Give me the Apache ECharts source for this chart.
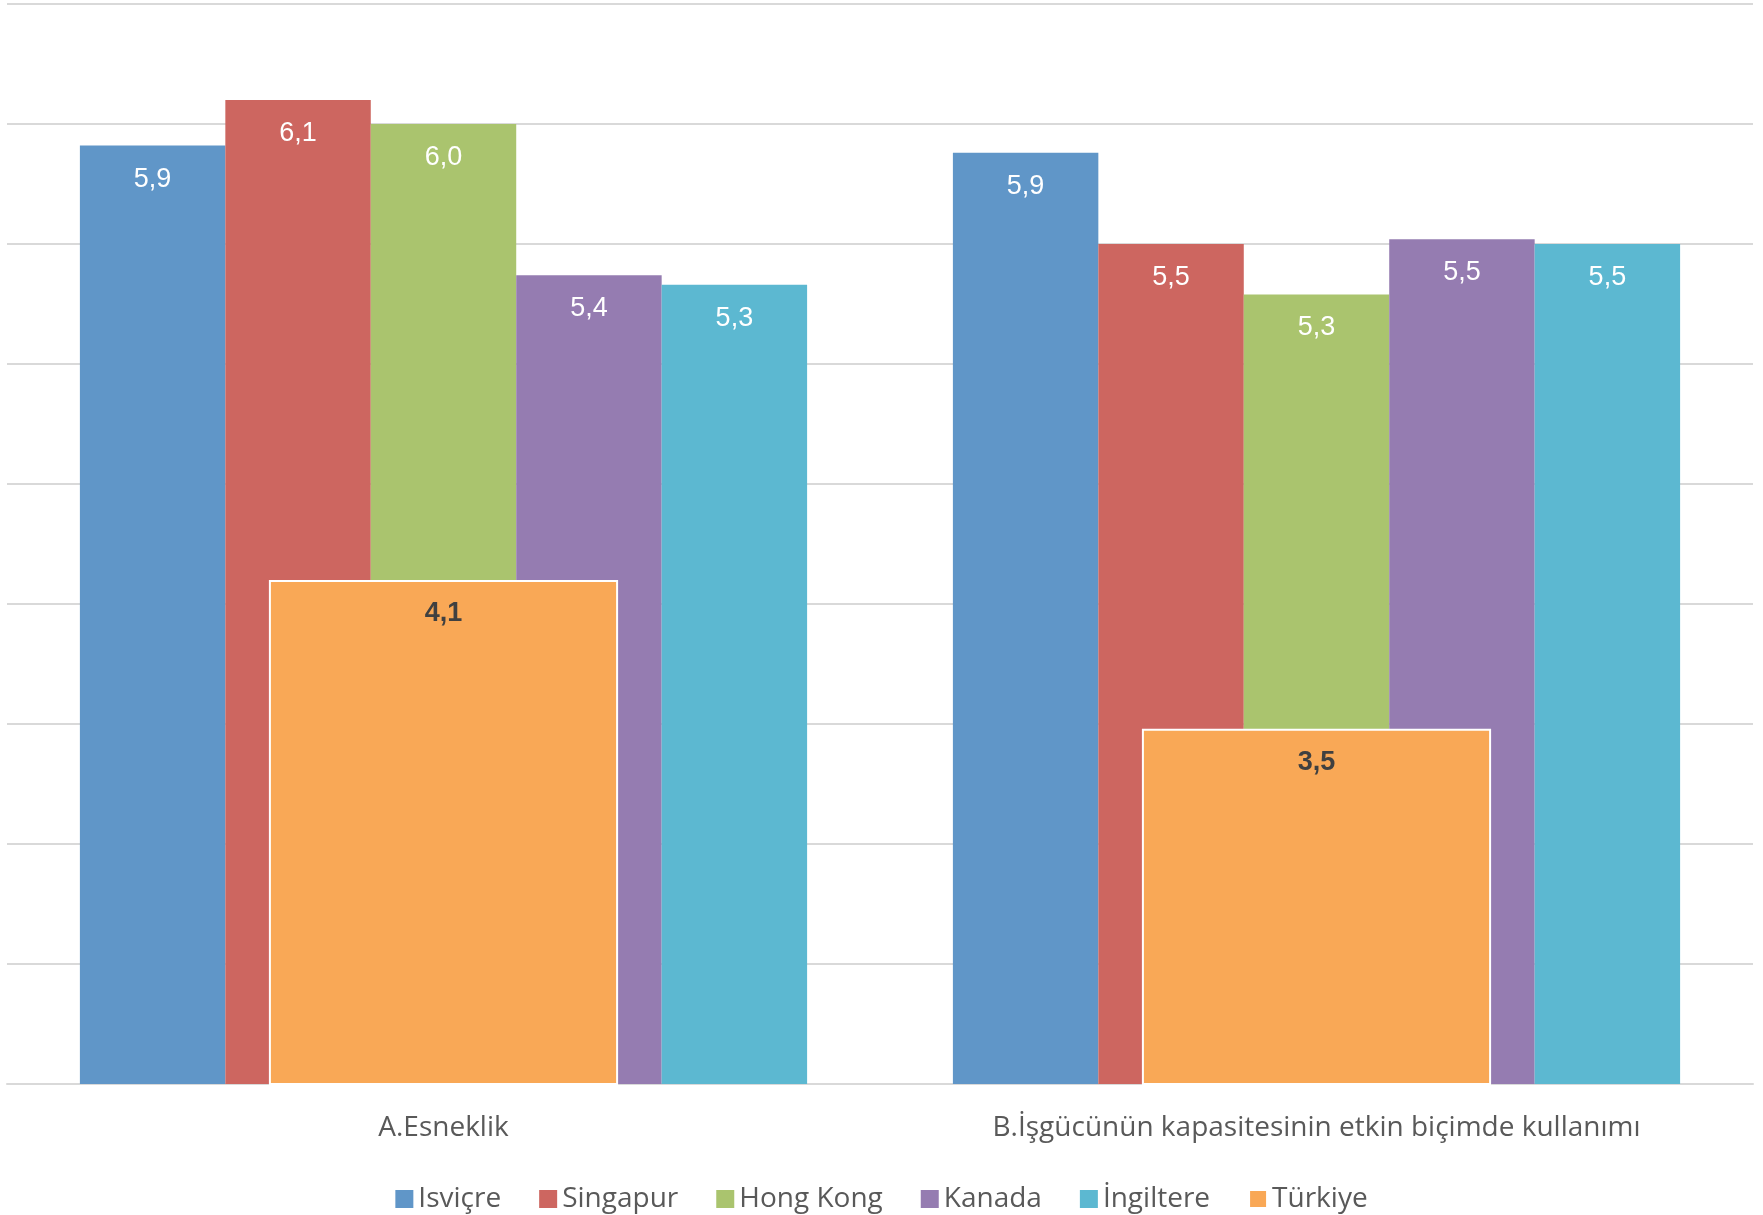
<!DOCTYPE html>
<html>
<head>
<meta charset="utf-8">
<script src="https://cdn.jsdelivr.net/npm/echarts@6/dist/echarts.min.js"></script>
<style>
  html, body { margin: 0; padding: 0; background: #fff; }
  #chart { width: 1763px; height: 1215px; }
</style>
</head>
<body>
<div id="chart"></div>
<script>
const categories = ['A.Esneklik', 'B.İşgücünün kapasitesinin etkin biçimde kullanımı'];
const isvicre = [5.91, 5.88];
const singapur = [6.10, 5.50];
const hongKong = [6.00, 5.29];
const kanada = [5.37, 5.52];
const ingiltere = [5.33, 5.50];
const turkiye = [4.10, 3.48];

const fmt = p => p.value.toFixed(1).replace('.', ',');
const labelFont = '"Liberation Sans", Arial, sans-serif';
const textFont = '"Open Sans", "Noto Sans", sans-serif';

function mainBar(name, data, color) {
  return {
    name: name,
    type: 'bar',
    data: data,
    xAxisIndex: 0,
    barGap: 0,
    barCategoryGap: '16.7%',
    itemStyle: { color: color },
    label: {
      show: true,
      position: 'insideTop',
      distance: 20,
      color: '#fff',
      fontSize: 27,
      fontFamily: labelFont,
      formatter: fmt
    }
  };
}

const chart = echarts.init(document.getElementById('chart'));
chart.setOption({
  animation: false,
  grid: { left: 7, right: 10, top: 4, bottom: 131 },
  legend: {
    top: 1180,
    left: 'center',
    itemWidth: 18,
    itemHeight: 18,
    itemGap: 38,
    icon: 'rect',
    textStyle: { fontSize: 28, color: '#595959', fontFamily: textFont }
  },
  xAxis: [
    {
      type: 'category',
      data: categories,
      axisTick: { show: false },
      axisLine: { lineStyle: { color: '#D9D9D9', width: 2 } },
      axisLabel: { margin: 30, fontSize: 28, color: '#595959', fontFamily: textFont }
    },
    {
      type: 'category',
      data: categories,
      show: false
    }
  ],
  yAxis: {
    type: 'value',
    min: 2,
    max: 6.5,
    interval: 0.5,
    axisLabel: { show: false },
    axisLine: { show: false },
    axisTick: { show: false },
    splitLine: { lineStyle: { color: '#D9D9D9', width: 2 } }
  },
  series: [
    mainBar('Isviçre', isvicre, '#6096C8'),
    mainBar('Singapur', singapur, '#CD6660'),
    mainBar('Hong Kong', hongKong, '#AAC46E'),
    mainBar('Kanada', kanada, '#957CB1'),
    mainBar('İngiltere', ingiltere, '#5CB8D1'),
    {
      name: 'Türkiye',
      type: 'bar',
      data: turkiye,
      xAxisIndex: 1,
      barWidth: '40%',
      itemStyle: { color: '#F9A856', borderColor: '#fff', borderWidth: 2 },
      label: {
        show: true,
        position: 'insideTop',
        distance: 20,
        color: '#404040',
        fontWeight: 'bold',
        fontSize: 27,
        fontFamily: labelFont,
        formatter: fmt
      }
    }
  ]
});
</script>
</body>
</html>
